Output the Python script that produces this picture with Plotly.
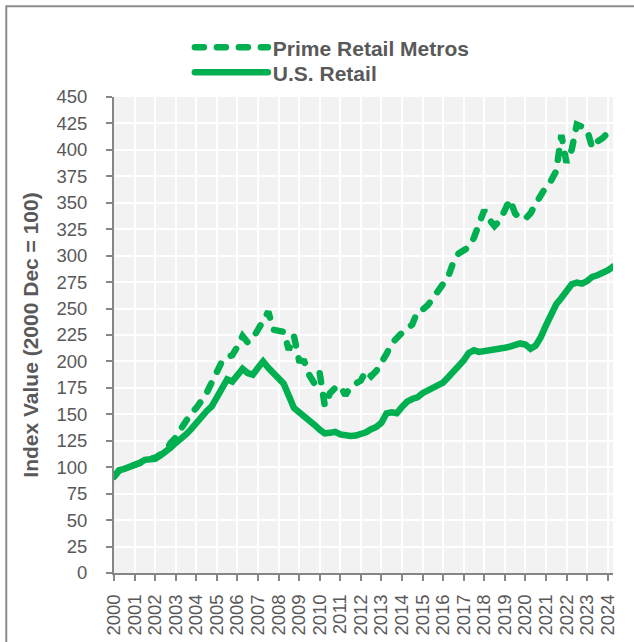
import plotly.graph_objects as go

# ---------------- data ----------------
YEARS = list(range(2000, 2025))
TICK_LABELS = [str(y) for y in YEARS]
QUARTERS = [f"{y}Q{q}" for y in YEARS for q in (1, 2, 3, 4)]

us_retail = [
    91, 97, 98.5, 100,          # 2000
    101.5, 104, 107, 107.5,     # 2001
    108, 111, 114, 118.5,       # 2002
    123, 126.5, 131, 136,       # 2003
    142, 147.5, 153, 157.5,     # 2004
    166, 177, 183, 181,         # 2005
    187, 193, 189, 187.5,       # 2006
    194, 200, 194, 188,         # 2007
    184, 179, 167, 156,         # 2008
    152, 148.5, 145, 140,       # 2009
    135.5, 132, 132.5, 133.5,   # 2010
    131, 129.5, 129.5, 130,     # 2011
    131, 133, 136, 138,         # 2012
    142, 151, 152, 151,         # 2013
    157, 162, 164.5, 166,       # 2014
    170, 172.5, 174, 176,       # 2015
    180, 185, 190, 195,         # 2016
    201, 208, 210.5, 209,       # 2017
    209.5, 210, 211.5, 212.5,   # 2018
    213, 214, 215.5, 217,       # 2019
    216, 212, 215, 223,         # 2020
    234, 246, 254, 260,         # 2021
    266, 273, 274.5, 273.5,     # 2022
    276, 280, 281.5, 283,       # 2023
    286, 289.5,                 # 2024
]

prime_retail_metros = [
    91, 97, 98.5, 100,          # 2000
    101.5, 104, 107, 107.5,     # 2001
    109, 112, 115, 123,         # 2002
    128, 136, 144, 151,         # 2003
    156, 163, 170, 180,         # 2004
    191, 200, 204, 206,         # 2005
    214, 224, 218, 222,         # 2006
    230, 238, 247, 230,         # 2007
    229, 228, 211, 224,         # 2008
    201, 200, 187, 179,         # 2009
    189, 158, 170, 175,         # 2010
    177, 168, 176, 179,         # 2011
    182, 191, 186, 191,         # 2012
    198, 207, 217, 223,         # 2013
    227, 231, 235, 247,         # 2014
    249, 253, 260, 267,         # 2015
    272, 280, 294, 302,         # 2016
    305, 308, 317, 329,         # 2017
    343, 334, 328, 333,         # 2018
    345, 353, 340, 335,         # 2019
    335, 340, 349, 358,         # 2020
    365, 371, 380, 414,         # 2021
    388, 400, 424, 422,         # 2022
    419, 402, 408, 411,         # 2023
    416,                        # 2024
]


def quarter_to_x(label):
    y, q = label.split("Q")
    return int(y) + (int(q) - 1) / 4


x_us = [quarter_to_x(q) for q in QUARTERS[:len(us_retail)]]
x_prime = [quarter_to_x(q) for q in QUARTERS[:len(prime_retail_metros)]]

# ---------------- style ----------------
GREEN = "#00B050"
TEXT = "#595959"
AXIS = "#868686"
FONT = "Liberation Sans, Arial, sans-serif"

fig = go.Figure()
fig.add_trace(go.Scatter(
    x=x_prime, y=prime_retail_metros, mode="lines", name="Prime Retail Metros",
    line=dict(color=GREEN, width=6.5, dash="9px,13px"), legend="legend",
))
fig.add_trace(go.Scatter(
    x=x_us, y=us_retail, mode="lines", name="U.S. Retail",
    line=dict(color=GREEN, width=6.5), legend="legend2",
))

legend_common = dict(
    xanchor="left", yanchor="middle",
    font=dict(family=FONT, size=21, color=TEXT, weight="bold"),
    bgcolor="rgba(0,0,0,0)", itemwidth=73, borderwidth=0,
)

fig.update_layout(
    width=634, height=642,
    margin=dict(l=114, r=21, t=97, b=69, autoexpand=False),
    paper_bgcolor="white",
    plot_bgcolor="#F2F2F2",
    font=dict(family=FONT, color=TEXT, size=18),
    showlegend=True,
    legend=dict(x=0.152, y=(573.3 - 48) / 476, **legend_common),
    legend2=dict(x=0.152, y=(573.3 - 73) / 476, **legend_common),
    shapes=[dict(
        type="rect", xref="paper", yref="paper",
        x0=(6.7 - 114.3) / 498.4, x1=1.3, y0=-0.3, y1=(573.3 - 6.5) / 476,
        line=dict(color="#8C8C8C", width=2), fillcolor="rgba(0,0,0,0)",
        layer="above",
    )],
)

fig.update_xaxes(
    range=[2000, 2024.26], automargin=False,
    tickmode="array", tickvals=YEARS, ticktext=TICK_LABELS,
    tickangle=-90, ticks="outside", ticklen=6, tickwidth=2, tickcolor=AXIS,
    showline=True, linecolor=AXIS, linewidth=2,
    showgrid=True, gridcolor="white", gridwidth=2, zeroline=False,
    tickfont=dict(family=FONT, size=18.5, color=TEXT),
    ticklabelstandoff=6,
)
fig.update_yaxes(
    range=[0, 450], tickmode="linear", tick0=0, dtick=25, automargin=False,
    ticks="outside", ticklen=6, tickwidth=2, tickcolor=AXIS,
    showline=True, linecolor=AXIS, linewidth=2,
    showgrid=True, gridcolor="white", gridwidth=2, zeroline=False,
    tickfont=dict(family=FONT, size=18.5, color=TEXT),
    ticklabelstandoff=15,
    title=dict(text="Index Value (2000 Dec = 100)",
               font=dict(family=FONT, size=21, color=TEXT, weight="bold"),
               standoff=12),
)

fig.write_html(
    "out.html",
    config={"displayModeBar": False, "staticPlot": True},
    post_script=(
        "document.body.style.margin='0';"
        "document.body.style.overflow='hidden';"
        "document.querySelectorAll('.scatterlayer .js-line, .legendlines path')"
        ".forEach(function(p){p.style.strokeLinecap='round';});"
    ),
)
